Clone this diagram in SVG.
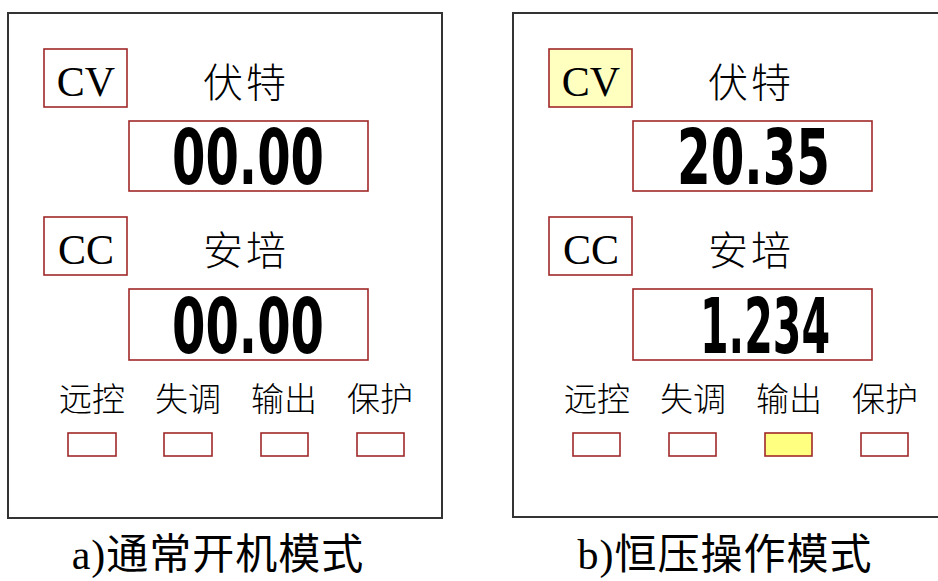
<svg xmlns="http://www.w3.org/2000/svg" width="938" height="581" viewBox="0 0 938 581">
<style>
.panel{fill:#fff;stroke:#333;stroke-width:2}
.box{fill:#fff;stroke:#a02828;stroke-width:1.6}
.on{fill:#ffffc0}
.led-on{fill:#ffff80}
.mode{font-family:"Liberation Serif","Noto Sans CJK SC",serif;font-size:42px;fill:#000}
.cjk{font-family:"Noto Sans CJK SC","Liberation Sans",sans-serif;font-weight:300;fill:#000}
.unit{font-size:40px;letter-spacing:3px}
.lab{font-size:33px}
.dig{font-family:"DejaVu Sans Condensed","DejaVu Sans",sans-serif;font-weight:bold;font-size:77px;fill:#000}
.cap{font-family:"Liberation Serif","Noto Sans CJK SC",serif;font-size:42px;letter-spacing:1px;fill:#000}
</style>
<rect width="938" height="581" fill="#fff"/>
<g id="panelA">
  <rect class="panel" x="8" y="13" width="434" height="505"/>
  <g id="a-cv"><rect class="box" x="44" y="49" width="83" height="58"/><text class="mode" x="86" y="96" text-anchor="middle">CV</text></g>
  <text class="cjk unit" x="246" y="97" text-anchor="middle">伏特</text>
  <g id="a-vdisp"><rect class="box" x="129" y="121" width="239" height="70"/><text class="dig" x="172" y="184" textLength="152" lengthAdjust="spacingAndGlyphs">00.00</text></g>
  <g id="a-cc"><rect class="box" x="44" y="217" width="83" height="58"/><text class="mode" x="86" y="264" text-anchor="middle">CC</text></g>
  <text class="cjk unit" x="246" y="265" text-anchor="middle">安培</text>
  <g id="a-adisp"><rect class="box" x="129" y="289" width="239" height="71"/><text class="dig" x="172" y="353" textLength="152" lengthAdjust="spacingAndGlyphs">00.00</text></g>
  <g id="a-leds">
    <text class="cjk lab" x="92" y="411" text-anchor="middle">远控</text>
    <text class="cjk lab" x="188" y="411" text-anchor="middle">失调</text>
    <text class="cjk lab" x="284" y="411" text-anchor="middle">输出</text>
    <text class="cjk lab" x="380" y="411" text-anchor="middle">保护</text>
    <rect class="box" x="68" y="433" width="48" height="23"/>
    <rect class="box" x="164" y="433" width="48" height="23"/>
    <rect class="box" x="261" y="433" width="47" height="23"/>
    <rect class="box" x="357" y="433" width="47" height="23"/>
  </g>
  <text class="cap" x="218" y="569" text-anchor="middle">a)通常开机模式</text>
</g>
<g id="panelB">
  <rect class="panel" x="513" y="13" width="440" height="504"/>
  <g id="b-cv"><rect class="box on" x="549" y="49" width="83" height="58"/><text class="mode" x="591" y="96" text-anchor="middle">CV</text></g>
  <text class="cjk unit" x="751" y="97" text-anchor="middle">伏特</text>
  <g id="b-vdisp"><rect class="box" x="633" y="121" width="239" height="70"/><text class="dig" x="677" y="184" textLength="153" lengthAdjust="spacingAndGlyphs">20.35</text></g>
  <g id="b-cc"><rect class="box" x="549" y="217" width="83" height="58"/><text class="mode" x="591" y="264" text-anchor="middle">CC</text></g>
  <text class="cjk unit" x="751" y="265" text-anchor="middle">安培</text>
  <g id="b-adisp"><rect class="box" x="633" y="289" width="239" height="71"/><text class="dig" x="700" y="353" textLength="130" lengthAdjust="spacingAndGlyphs">1.234</text></g>
  <g id="b-leds">
    <text class="cjk lab" x="597" y="411" text-anchor="middle">远控</text>
    <text class="cjk lab" x="693" y="411" text-anchor="middle">失调</text>
    <text class="cjk lab" x="789" y="411" text-anchor="middle">输出</text>
    <text class="cjk lab" x="885" y="411" text-anchor="middle">保护</text>
    <rect class="box" x="573" y="433" width="47" height="23"/>
    <rect class="box" x="669" y="433" width="47" height="23"/>
    <rect class="box led-on" x="765" y="433" width="47" height="23"/>
    <rect class="box" x="861" y="433" width="47" height="23"/>
  </g>
  <text class="cap" x="725" y="569" text-anchor="middle">b)恒压操作模式</text>
</g>
</svg>
